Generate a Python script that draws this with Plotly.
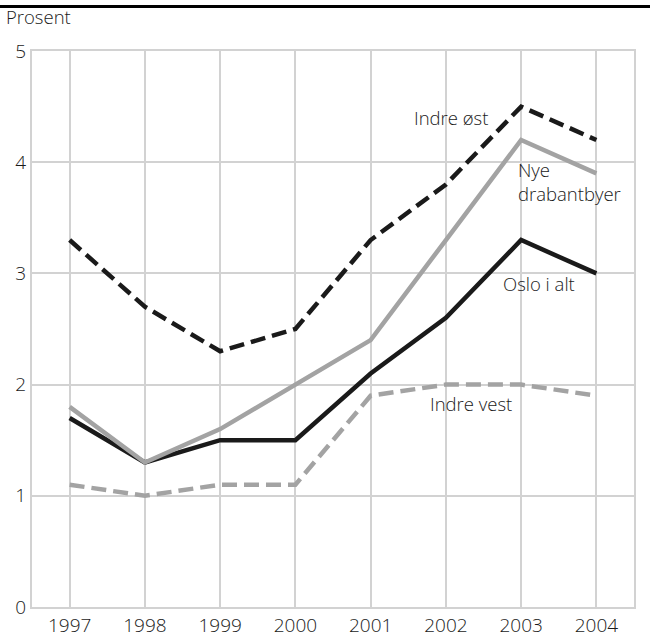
import plotly.graph_objects as go

years = [1997, 1998, 1999, 2000, 2001, 2002, 2003, 2004]
indre_ost = [3.3, 2.7, 2.3, 2.5, 3.3, 3.8, 4.5, 4.2]
nye_drabantbyer = [1.8, 1.3, 1.6, 2.0, 2.4, 3.3, 4.2, 3.9]
oslo_i_alt = [1.7, 1.3, 1.5, 1.5, 2.1, 2.6, 3.3, 3.0]
indre_vest = [1.1, 1.0, 1.1, 1.1, 1.9, 2.0, 2.0, 1.9]

BLACK = "#1a1a1a"
GREY = "#a3a3a3"
GRID = "#d2d2d2"
FONT = "Open Sans"

series = [
    (indre_vest, GREY, "15px,7px"),
    (oslo_i_alt, BLACK, "solid"),
    (nye_drabantbyer, GREY, "solid"),
    (indre_ost, BLACK, "15px,7px"),
]

fig = go.Figure()
for vals, color, dash in series:
    fig.add_trace(go.Scatter(
        x=years, y=vals, mode="lines",
        line=dict(color=color, width=4.5, dash=dash),
        showlegend=False, hoverinfo="skip",
    ))

labels = [
    ("Indre øst", 2001.55, 4.40),
    ("Nye<br>drabantbyer", 2002.93, 3.83),
    ("Oslo i alt", 2002.73, 2.91),
    ("Indre vest", 2001.76, 1.83),
]
for text, x, y in labels:
    fig.add_annotation(x=x, y=y, text=text, showarrow=False,
                       xanchor="left", yanchor="middle", align="left",
                       font=dict(family=FONT, size=18.5, color=BLACK, weight=300))

fig.add_annotation(xref="paper", yref="paper", x=-0.047, y=1.036,
                   text="Prosent", showarrow=False, xanchor="left", yanchor="bottom",
                   font=dict(family=FONT, size=18.5, color=BLACK, weight=300))

fig.add_shape(type="line", xref="paper", yref="paper",
              x0=-0.06, x1=1.03, y0=1.08, y1=1.08,
              line=dict(color="black", width=3))

tick_font = dict(family=FONT, size=19, color=BLACK, weight=300)

fig.update_layout(
    width=650, height=642,
    margin=dict(l=32, r=16, t=51, b=35),
    paper_bgcolor="white", plot_bgcolor="white",
    font=dict(family=FONT, size=19, color=BLACK, weight=300),
    xaxis=dict(range=[1996.5, 2004.5], tickvals=years, ticktext=[str(y) for y in years],
               showgrid=True, gridcolor=GRID, gridwidth=2,
               showline=True, linecolor=GRID, linewidth=2, mirror=True,
               zeroline=False, ticks="", ticklen=0, automargin=False,
               tickfont=tick_font),
    yaxis=dict(range=[0, 5], tickvals=[0, 1, 2, 3, 4, 5],
               showgrid=True, gridcolor=GRID, gridwidth=2,
               showline=True, linecolor=GRID, linewidth=2, mirror=True,
               zeroline=False, ticks="", ticklen=0, automargin=False,
               tickfont=tick_font),
)

fig.write_html("out.html")
